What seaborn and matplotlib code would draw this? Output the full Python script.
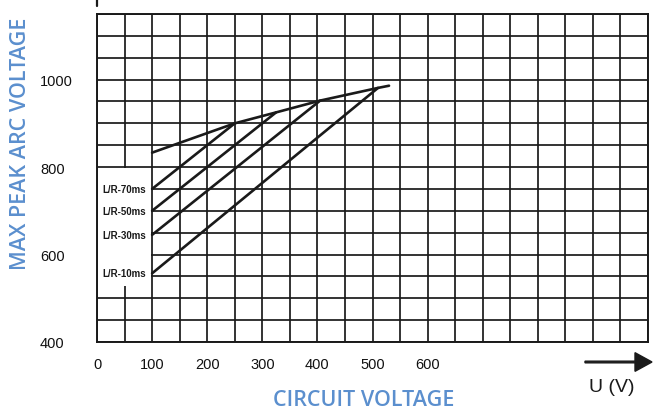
import numpy as np
import pandas as pd
import matplotlib
matplotlib.use("Agg")
import matplotlib.pyplot as plt
from matplotlib.lines import Line2D
from matplotlib.patches import Rectangle, FancyArrow
import seaborn as sns

# Circuit voltage (V) and max peak arc voltage (V) for each time constant
series_names = ["L/R-70ms", "L/R-50ms", "L/R-30ms", "L/R-10ms"]
u_70 = [100, 250]
v_70 = [750, 900]
u_50 = [100, 325]
v_50 = [700, 925]
u_30 = [100, 405]
v_30 = [645, 952]
u_10 = [100, 510]
v_10 = [557, 981]

# Upper limit curve joining the ends of the time-constant lines
u_env = [100, 250, 325, 405, 510, 530]
v_env = [833, 900, 925, 952, 981, 986]

x_tick_labels = ["0", "100", "200", "300", "400", "500", "600"]
y_tick_labels = ["400", "600", "800", "1000"]

frames = []
for name, u, v in zip(series_names + ["limit"],
                      [u_70, u_50, u_30, u_10, u_env],
                      [v_70, v_50, v_30, v_10, v_env]):
    frames.append(pd.DataFrame({"U": u, "V": v, "series": name}))
df = pd.concat(frames, ignore_index=True)

sns.set_theme(style="white")
plt.rcParams["font.family"] = ["Liberation Sans", "DejaVu Sans"]

fig = plt.figure(figsize=(6.55, 4.14), dpi=100)
ax = fig.add_axes([97 / 655, 1 - 343 / 414, (648 - 97) / 655, (343 - 15) / 414])

sns.lineplot(data=df, x="U", y="V", units="series", estimator=None,
             color="#1a1a1a", lw=1.9, sort=False, ax=ax, zorder=5)

ax.set_xlim(0, 1000)
ax.set_ylim(400, 1150)

# Graph-paper grid: a line every 50 V on both axes
xt = np.arange(0, 1001, 50)
yt = np.arange(400, 1151, 50)
ax.set_xticks(xt)
ax.set_yticks(yt)
ax.set_xticklabels([x_tick_labels[int(t // 100)] if (t % 100 == 0 and t <= 600) else "" for t in xt])
ax.set_yticklabels([str(int(t)) if str(int(t)) in y_tick_labels else "" for t in yt])
ax.tick_params(axis="both", length=0, labelsize=10.5, colors="#111111")
ax.tick_params(axis="x", pad=11)
ax.tick_params(axis="y", pad=41)
for lab in ax.get_yticklabels():
    lab.set_horizontalalignment("left")
ax.grid(True, color="#1a1a1a", lw=1.25)
ax.set_axisbelow(True)
for s in ax.spines.values():
    s.set_color("#1a1a1a")
    s.set_linewidth(1.4)
    s.set_visible(True)

# Blank panel for the curve labels
ax.add_patch(Rectangle((1.5, 527), 97, 270, facecolor="white", edgecolor="none", zorder=1.5))

label_y = [v_70[0], v_50[0], v_30[0], v_10[0]]
for name, y in zip(series_names, label_y):
    ax.text(9, y, name, fontsize=7, fontweight="bold", ha="left", va="center",
            color="#1a1a1a", zorder=6)

ax.set_xlabel("")
ax.set_ylabel("")

blue = "#5b8fce"
fig.text(21 / 655, 1 - 144 / 414, "MAX PEAK ARC VOLTAGE", rotation=90,
         ha="center", va="center", color=blue, fontsize=15.5,
         family=["Open Sans", "DejaVu Sans"], fontweight="semibold")
fig.text(364 / 655, 1 - 401 / 414, "CIRCUIT VOLTAGE", ha="center", va="center",
         color=blue, fontsize=15.5, family=["Open Sans", "DejaVu Sans"],
         fontweight="semibold")

# Axis arrow and unit
fig.patches.append(FancyArrow(
    585 / 655, 1 - 363 / 414, 50 / 655, 0, width=0.004, head_width=0.045,
    head_length=17 / 655, length_includes_head=False, color="#1a1a1a",
    transform=fig.transFigure, figure=fig))
fig.text(612 / 655, 1 - 388 / 414, "U (V)", ha="center", va="center",
         fontsize=14, color="#1a1a1a")
fig.add_artist(Line2D([97 / 655, 97 / 655], [1, 1 - 7 / 414], color="#1a1a1a", lw=1.6))

fig.savefig("out.png", dpi=100, facecolor="white")
